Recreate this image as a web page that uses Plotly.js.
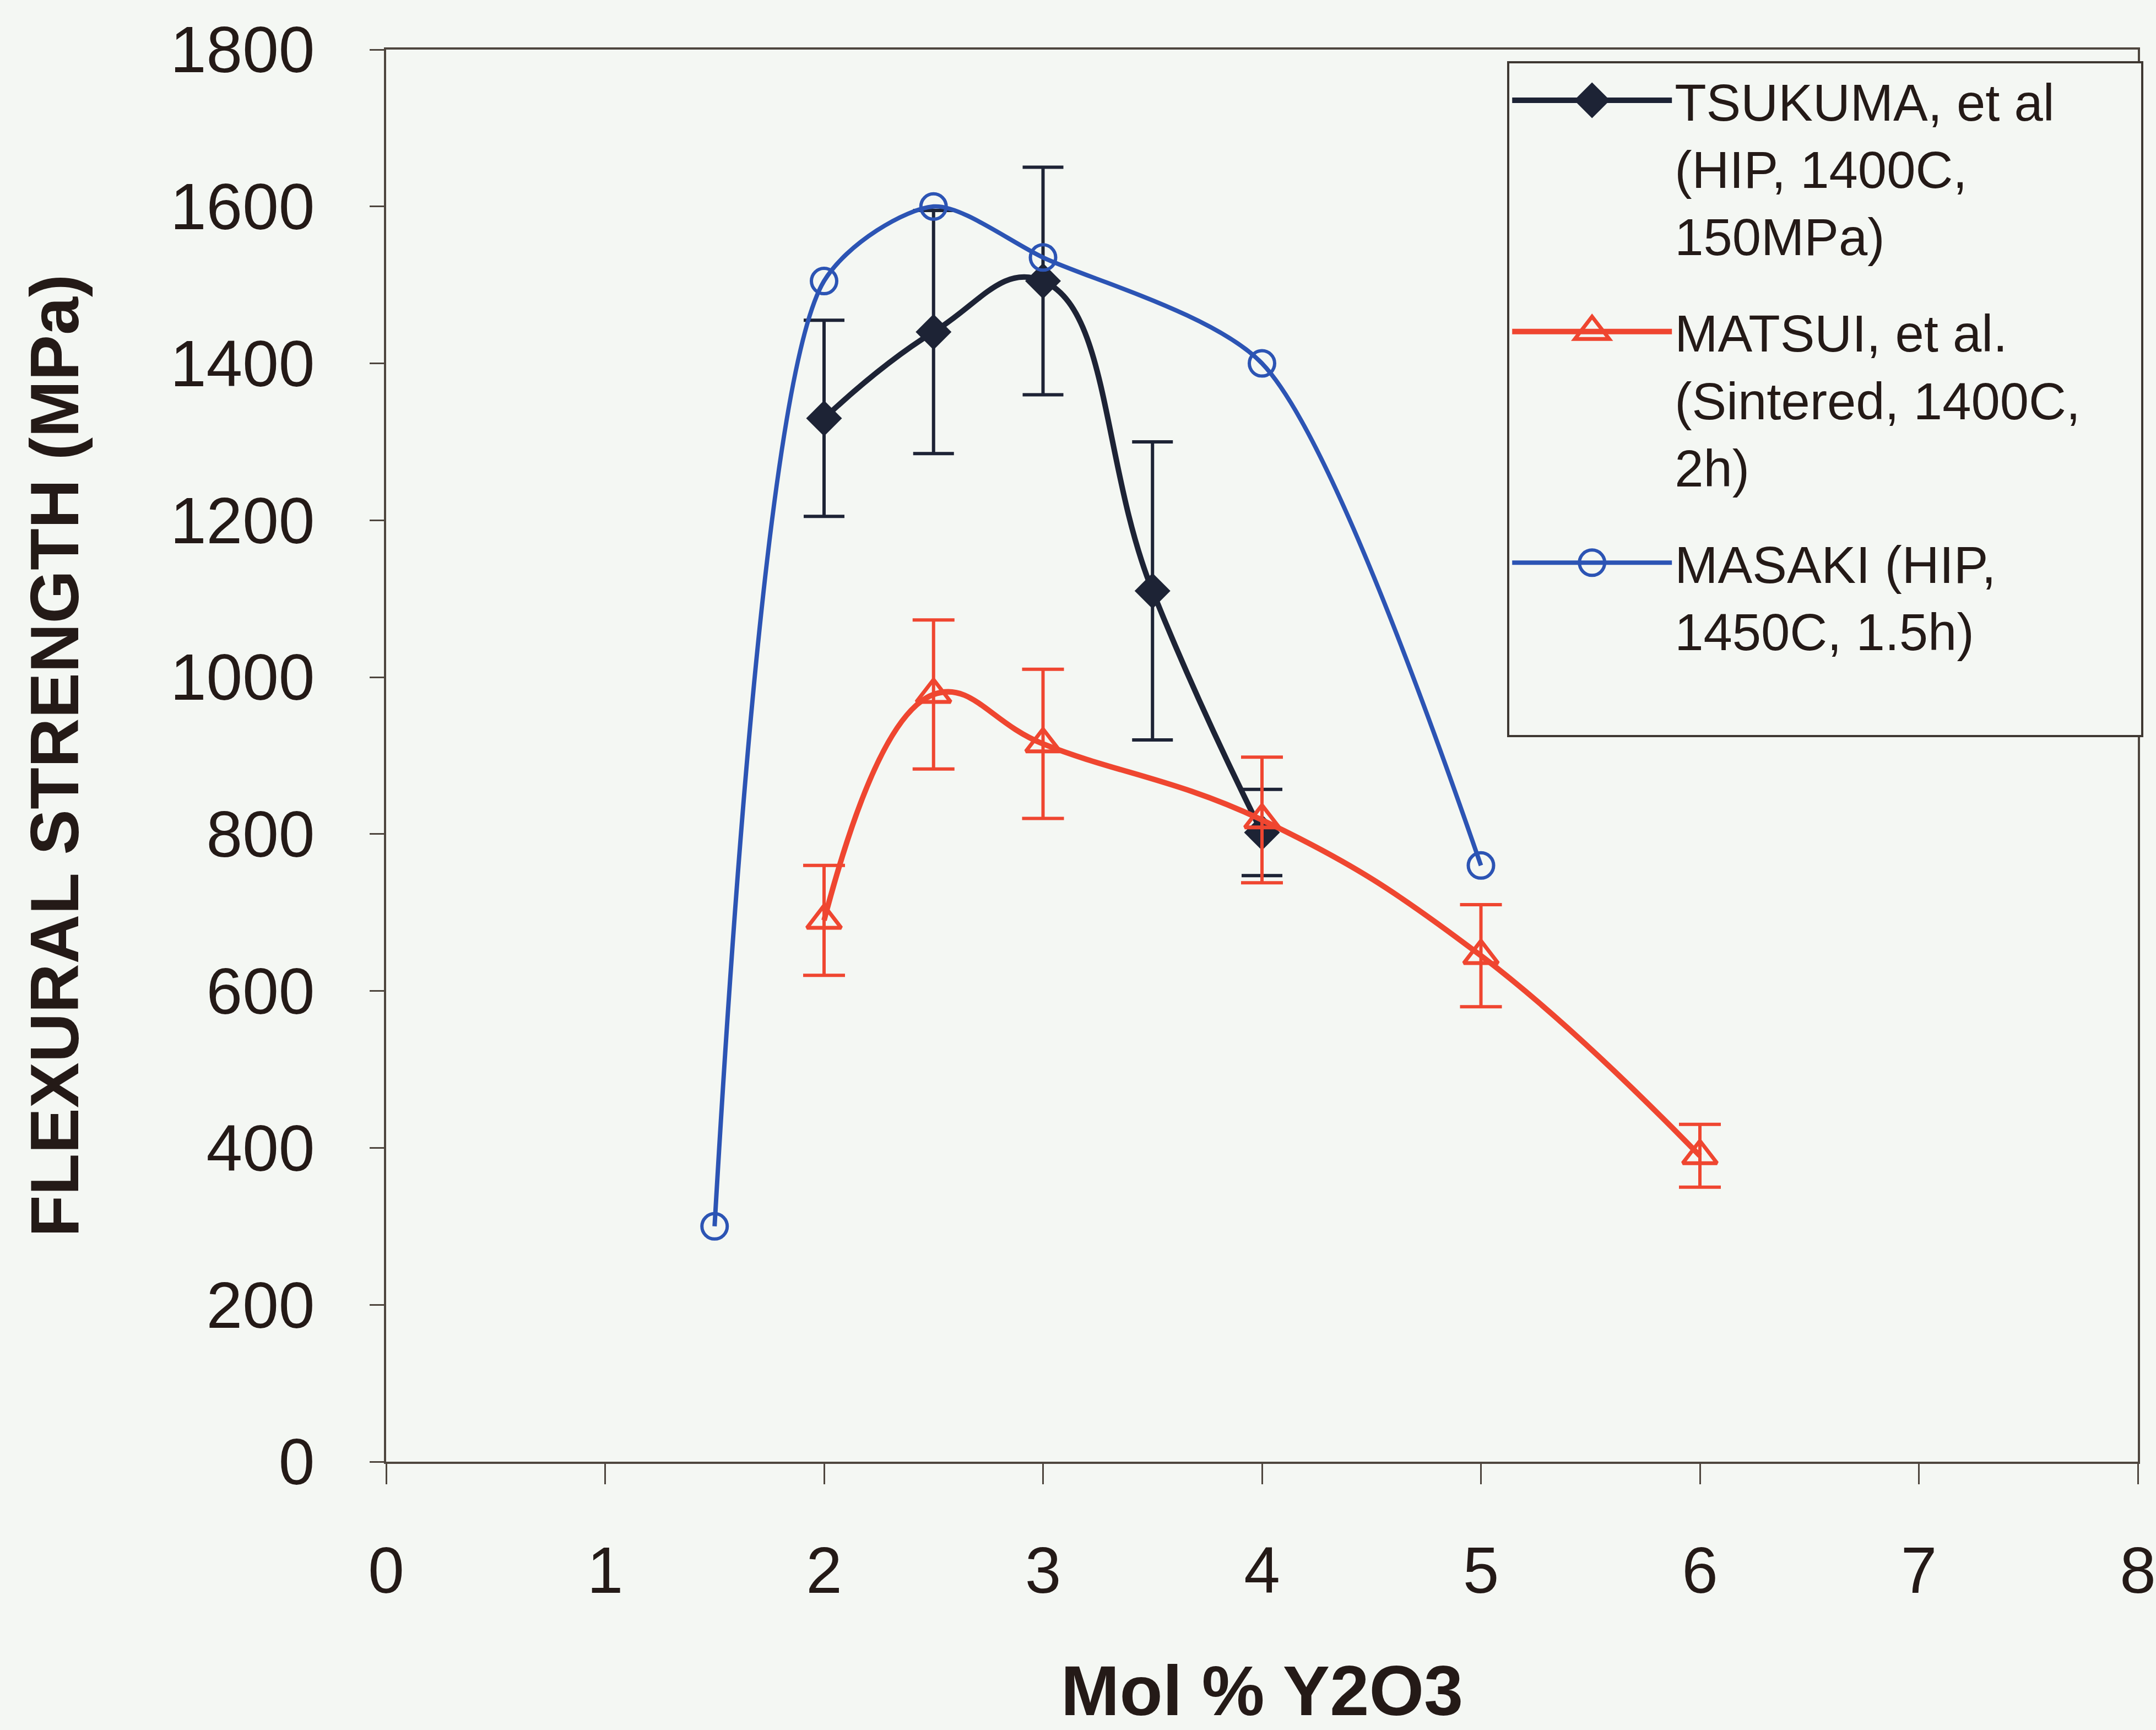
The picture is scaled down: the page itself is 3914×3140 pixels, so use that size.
<!DOCTYPE html>
<html>
<head>
<meta charset="utf-8">
<script src="https://cdn.plot.ly/plotly-3.0.1.min.js"></script>
<style>
  html, body { margin: 0; padding: 0; background: #f4f7f3; }
  #chart { width: 3914px; height: 3140px; }
</style>
</head>
<body>
<div id="chart"></div>
<script>
// ---- data ----
const tsukumaX = [2, 2.5, 3, 3.5, 4];
const tsukumaY = [1330, 1440, 1505, 1110, 802];
const tsukumaErr = [125, 155, 145, 190, 55];

const matsuiX = [2, 2.5, 3, 4, 5, 6];
const matsuiY = [690, 978, 915, 818, 645, 390];
const matsuiErr = [70, 95, 95, 80, 65, 40];

const masakiX = [1.5, 2, 2.5, 3, 4, 5];
const masakiY = [300, 1505, 1600, 1535, 1400, 760];

const xTicks = [0, 1, 2, 3, 4, 5, 6, 7, 8];
const yTicks = [0, 200, 400, 600, 800, 1000, 1200, 1400, 1600, 1800];

const NB = '\u00a0';
const names = [
  'TSUKUMA, et al<br>(HIP, 1400C,<br>150MPa)',
  'MATSUI, et al.<br>(Sintered, 1400C,' + NB + NB + NB + NB + '<br>2h)',
  'MASAKI (HIP,<br>1450C, 1.5h)<br>' + NB
];

const cBlack = '#1d2335';
const cRed = '#ef4630';
const cBlue = '#2c54b4';
const textColor = '#241a17';
const axisColor = '#4e463e';
const bg = '#f4f7f3';

const symbols = ['diamond', 'triangle-up-open', 'circle-open'];
const markerSizes = [50, 54, 46];
const markerLineW = [0, 7, 6];

const traces = [
  {
    x: tsukumaX, y: tsukumaY, name: names[0], legendgroup: 'a',
    type: 'scatter', mode: 'lines+markers',
    line: { color: cBlack, width: 10, shape: 'spline', smoothing: 1.3 },
    marker: { symbol: symbols[0], size: markerSizes[0], color: cBlack, line: { width: 0 } },
    error_y: { type: 'data', array: tsukumaErr, visible: true, color: cBlack, thickness: 6, width: 37 }
  },
  {
    x: matsuiX, y: matsuiY, name: names[1], legendgroup: 'b',
    type: 'scatter', mode: 'lines+markers',
    line: { color: cRed, width: 10, shape: 'spline', smoothing: 1.2 },
    marker: { symbol: symbols[1], size: markerSizes[1], color: cRed, line: { width: markerLineW[1], color: cRed } },
    error_y: { type: 'data', array: matsuiErr, visible: true, color: cRed, thickness: 6, width: 38 }
  },
  {
    x: masakiX, y: masakiY, name: names[2], legendgroup: 'c',
    type: 'scatter', mode: 'lines+markers',
    line: { color: cBlue, width: 8, shape: 'spline', smoothing: 0.75 },
    marker: { symbol: symbols[2], size: markerSizes[2], color: cBlue, line: { width: markerLineW[2], color: cBlue } }
  }
];

const layout = {
  width: 3914, height: 3140,
  paper_bgcolor: bg,
  plot_bgcolor: bg,
  margin: { l: 701, r: 33, t: 90, b: 487, autoexpand: false },
  font: { family: 'Liberation Sans, Arial, sans-serif', color: textColor },
  showlegend: true,
  legend: {
    x: 0.64, y: 0.992, xanchor: 'left', yanchor: 'top',
    bgcolor: bg, bordercolor: '#3e3832', borderwidth: 4,
    font: { size: 94, color: textColor, family: 'Liberation Sans, Arial, sans-serif' },
    valign: 'top', itemwidth: 290, tracegroupgap: 50,
    itemclick: false, itemdoubleclick: false
  },
  xaxis: {
    range: [0, 8], tickvals: xTicks, ticktext: xTicks.map(String),
    showgrid: false, zeroline: false,
    showline: true, linecolor: axisColor, linewidth: 4, mirror: true,
    ticks: 'outside', ticklen: 37, tickwidth: 3, tickcolor: axisColor,
    ticklabelstandoff: 55,
    tickfont: { size: 118, color: textColor },
    title: { text: '<b>Mol % Y2O3</b>', font: { size: 128, color: textColor }, standoff: 160 }
  },
  yaxis: {
    range: [0, 1800], tickvals: yTicks, ticktext: yTicks.map(String),
    showgrid: false, zeroline: false,
    showline: true, linecolor: axisColor, linewidth: 4, mirror: true,
    ticks: 'outside', ticklen: 26, tickwidth: 3, tickcolor: axisColor,
    ticklabelstandoff: 76,
    tickfont: { size: 118, color: textColor },
    title: { text: '<b>FLEXURAL STRENGTH (MPa)</b>', font: { size: 124, color: textColor }, standoff: 125 }
  }
};

// legend symbols are capped in size by Plotly; redraw their outlines at the plot's marker size
function symbolPath(sym, r) {
  if (sym.indexOf('diamond') === 0) {
    const rd = (r * 1.3).toFixed(2);
    return 'M' + rd + ',0L0,' + rd + 'L-' + rd + ',0L0,-' + rd + 'Z';
  }
  if (sym.indexOf('triangle-up') === 0) {
    const rt = (r * 2 / Math.sqrt(3)).toFixed(2), r2 = (r / 2).toFixed(2), rs = r.toFixed(2);
    return 'M-' + rt + ',' + r2 + 'H' + rt + 'L0,-' + rs + 'Z';
  }
  const rs = r.toFixed(2);
  return 'M' + rs + ',0A' + rs + ',' + rs + ' 0 1,1 0,-' + rs + 'A' + rs + ',' + rs + ' 0 0,1 ' + rs + ',0Z';
}

Plotly.newPlot('chart', traces, layout, { staticPlot: true, displayModeBar: false }).then(function (gd) {
  gd.querySelectorAll('.legend .traces').forEach(function (g) {
    const d = g.__data__;
    if (!d || !d[0] || !d[0].trace) return;
    const idx = d[0].trace.index;
    const p = g.querySelector('path.scatterpts');
    if (!p) return;
    p.setAttribute('d', symbolPath(symbols[idx], markerSizes[idx] / 2));
    if (markerLineW[idx]) p.style.strokeWidth = markerLineW[idx] + 'px';
  });
});
</script>
</body>
</html>
